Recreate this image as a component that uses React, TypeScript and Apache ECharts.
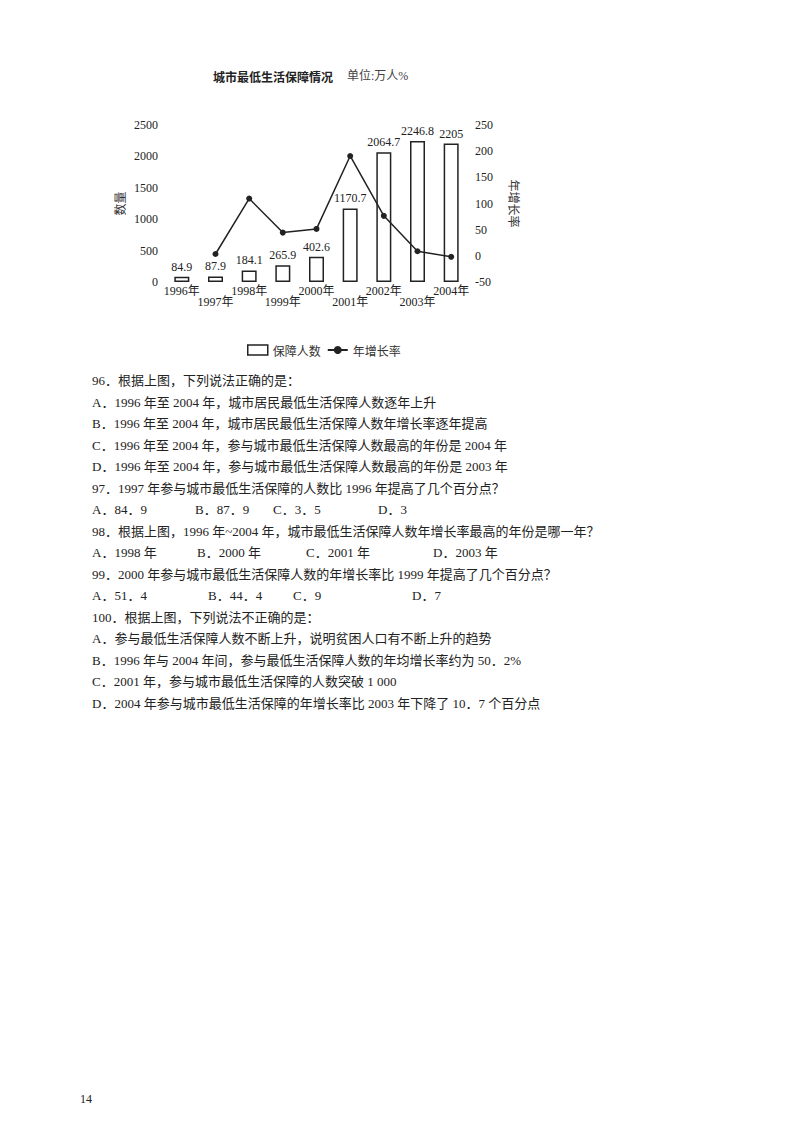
import { useEffect, useRef } from "react";
import * as echarts from "echarts";

const years = ["1996年", "1997年", "1998年", "1999年", "2000年", "2001年", "2002年", "2003年", "2004年"];
const people = [84.9, 87.9, 184.1, 265.9, 402.6, 1170.7, 2064.7, 2246.8, 2205];
const growth = [null, 3.5, 109.4, 44.4, 51.4, 190.8, 76.4, 8.8, -1.9];

const SERIF = '"Liberation Serif", "Noto Sans CJK SC", serif';
const CJK = '"Noto Sans CJK SC", sans-serif';

type Row = string | { items: string[]; at: number[] };

const rows: Row[] = [
  "96．根据上图，下列说法正确的是：",
  "A．1996 年至 2004 年，城市居民最低生活保障人数逐年上升",
  "B．1996 年至 2004 年，城市居民最低生活保障人数年增长率逐年提高",
  "C．1996 年至 2004 年，参与城市最低生活保障人数最高的年份是 2004 年",
  "D．1996 年至 2004 年，参与城市最低生活保障人数最高的年份是 2003 年",
  "97．1997 年参与城市最低生活保障的人数比 1996 年提高了几个百分点？",
  { items: ["A．84．9", "B．87．9", "C．3．5", "D．3"], at: [0, 103, 181, 286] },
  "98．根据上图，1996 年~2004 年，城市最低生活保障人数年增长率最高的年份是哪一年？",
  { items: ["A．1998 年", "B．2000 年", "C．2001 年", "D．2003 年"], at: [0, 105, 214, 341] },
  "99．2000 年参与城市最低生活保障人数的年增长率比 1999 年提高了几个百分点？",
  { items: ["A．51．4", "B．44．4", "C．9", "D．7"], at: [0, 116, 201, 320] },
  "100．根据上图，下列说法不正确的是：",
  "A．参与最低生活保障人数不断上升，说明贫困人口有不断上升的趋势",
  "B．1996 年与 2004 年间，参与最低生活保障人数的年均增长率约为 50．2%",
  "C．2001 年，参与城市最低生活保障的人数突破 1 000",
  "D．2004 年参与城市最低生活保障的年增长率比 2003 年下降了 10．7 个百分点",
];

function Chart() {
  const ref = useRef<HTMLDivElement>(null);

  useEffect(() => {
    const el = ref.current;
    if (!el) return;
    const chart = echarts.init(el, undefined, { renderer: "svg" });
    const axisText = { fontFamily: SERIF, fontSize: 12, color: "#222" };
    chart.setOption({
      animation: false,
      backgroundColor: "#fff",
      title: {
        left: 208,
        top: 65,
        text: "{a|城市最低生活保障情况}{b|单位:万人%}",
        textStyle: {
          fontWeight: "normal",
          rich: {
            a: { fontFamily: CJK, fontWeight: "bold", fontSize: 12, color: "#222" },
            b: { fontFamily: SERIF, fontWeight: "normal", fontSize: 12, color: "#444", padding: [0, 0, 0, 14] },
          },
        },
      },
      legend: {
        left: 242,
        top: 339,
        itemWidth: 20,
        itemHeight: 10,
        itemGap: 6,
        textStyle: { fontFamily: CJK, fontSize: 12, color: "#333" },
        data: [
          { name: "保障人数", icon: "rect", itemStyle: { color: "#fff", borderColor: "#222", borderWidth: 1.5 } },
          { name: "年增长率" },
        ],
      },
      grid: { left: 165, right: 332, top: 125, bottom: 88 },
      xAxis: {
        type: "category",
        data: years,
        axisLine: { show: false },
        axisTick: { show: false },
        axisLabel: {
          interval: 0,
          margin: 3,
          formatter: (v: string, i: number) => (i % 2 ? `{b|${v}}` : `{a|${v}}`),
          rich: {
            a: { ...axisText },
            b: { ...axisText, padding: [11, 0, 0, 0] },
          },
        },
      },
      yAxis: [
        {
          type: "value",
          min: 0,
          max: 2500,
          interval: 500,
          name: "数量",
          nameLocation: "middle",
          nameRotate: 90,
          nameGap: 40,
          nameTextStyle: { fontFamily: CJK, fontSize: 12, color: "#333" },
          axisLine: { show: false },
          axisTick: { show: false },
          splitLine: { show: false },
          axisLabel: { ...axisText, margin: 7, formatter: (v: number) => String(v) },
        },
        {
          type: "value",
          min: -50,
          max: 250,
          interval: 50,
          name: "年增长率",
          nameLocation: "middle",
          nameRotate: -90,
          nameGap: 40,
          nameTextStyle: { fontFamily: CJK, fontSize: 12, color: "#333" },
          axisLine: { show: false },
          axisTick: { show: false },
          splitLine: { show: false },
          axisLabel: { ...axisText, margin: 7, formatter: (v: number) => String(v) },
        },
      ],
      series: [
        {
          name: "保障人数",
          type: "bar",
          data: people,
          barWidth: 15,
          itemStyle: { color: "#fff", borderColor: "#222", borderWidth: 1.5 },
          label: { show: true, position: "top", distance: 4, ...axisText },
        },
        {
          name: "年增长率",
          type: "line",
          yAxisIndex: 1,
          data: growth,
          symbol: "circle",
          symbolSize: 6,
          lineStyle: { color: "#222", width: 1.5 },
          itemStyle: { color: "#222" },
          z: 3,
        },
      ],
    });
    return () => chart.dispose();
  }, []);

  return <div ref={ref} style={{ position: "absolute", left: 0, top: 0, width: 800, height: 370 }} />;
}

export default function App() {
  return (
    <div style={{ position: "absolute", left: 0, top: 0, width: 800, height: 1132, background: "#fff", overflow: "hidden" }}>
      <Chart />
      <div
        style={{
          position: "absolute",
          left: 92,
          top: 370,
          width: 680,
          fontFamily: SERIF,
          fontSize: 13,
          lineHeight: "21.5px",
          color: "#222",
        }}
      >
        {rows.map((r, i) =>
          typeof r === "string" ? (
            <div key={i} style={{ whiteSpace: "nowrap" }}>{r}</div>
          ) : (
            <div key={i} style={{ position: "relative", height: 21.5 }}>
              {r.items.map((t, j) => (
                <span key={j} style={{ position: "absolute", left: r.at[j], whiteSpace: "nowrap" }}>{t}</span>
              ))}
            </div>
          )
        )}
      </div>
      <div style={{ position: "absolute", left: 80, top: 1092, fontFamily: SERIF, fontSize: 12, color: "#222" }}>14</div>
    </div>
  );
}
